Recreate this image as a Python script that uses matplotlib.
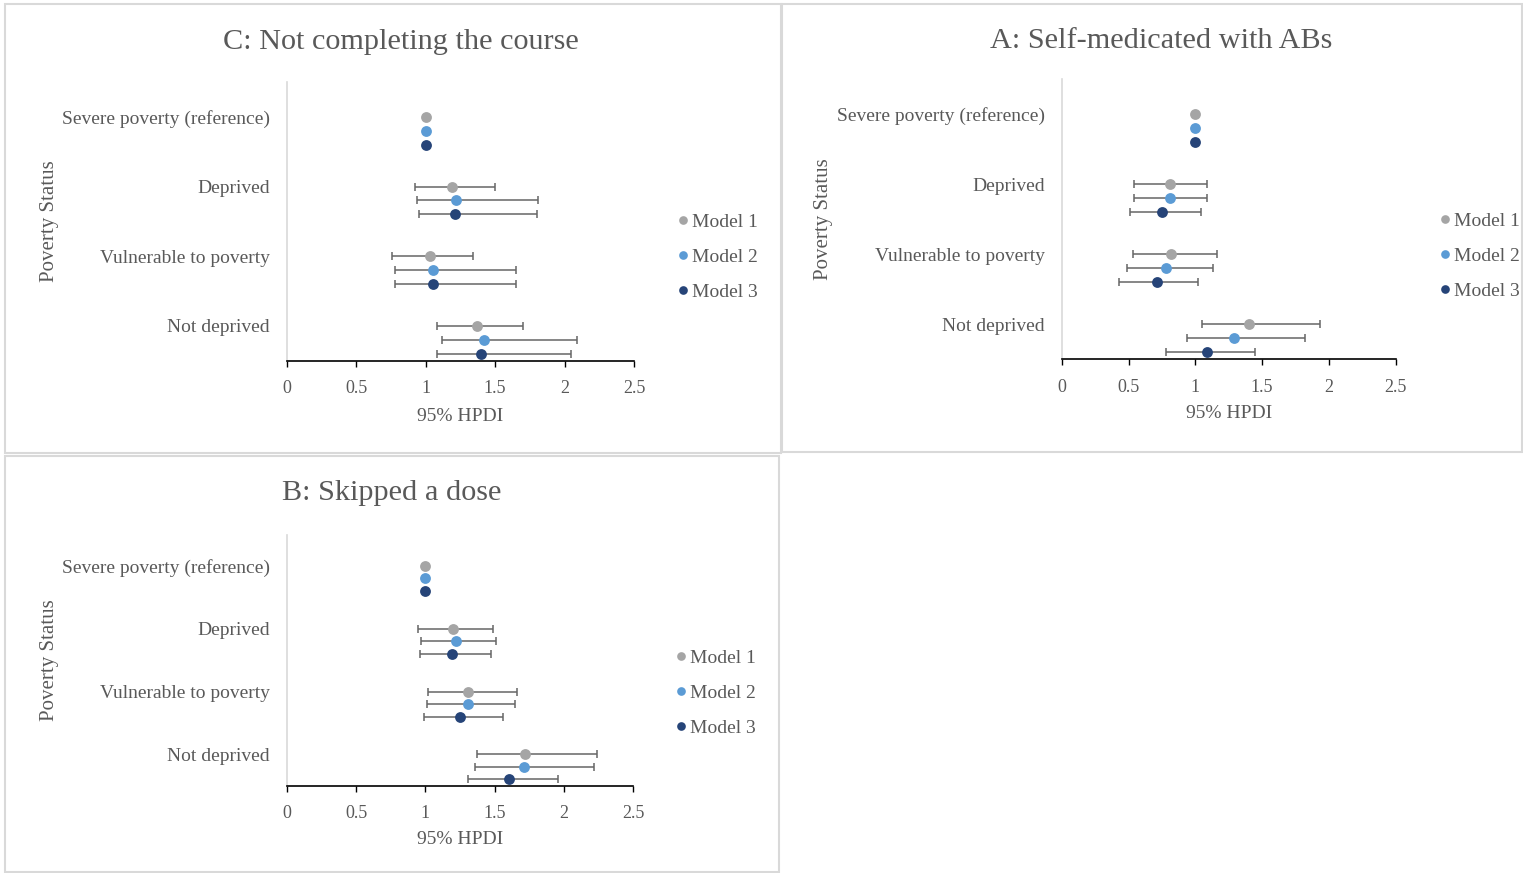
import matplotlib
matplotlib.use("Agg")
import matplotlib.pyplot as plt
from matplotlib.patches import Rectangle
import numpy as np

plt.rcParams['font.family'] = ['Liberation Serif', 'DejaVu Serif']

# Categories listed top to bottom
categories = ["Severe poverty (reference)", "Deprived", "Vulnerable to poverty", "Not deprived"]
models = ["Model 1", "Model 2", "Model 3"]
model_colors = ["#A5A5A5", "#5B9BD5", "#264478"]
x_ticks = [0, 0.5, 1, 1.5, 2, 2.5]
x_tick_labels = ["0", "0.5", "1", "1.5", "2", "2.5"]

# C: Not completing the course  (estimate, lower, upper per model)
c_est = [[1.0, 1.19, 1.03, 1.37], [1.0, 1.22, 1.05, 1.42], [1.0, 1.21, 1.05, 1.40]]
c_low = [[1.0, 0.92, 0.76, 1.08], [1.0, 0.94, 0.78, 1.12], [1.0, 0.95, 0.78, 1.08]]
c_high = [[1.0, 1.50, 1.34, 1.70], [1.0, 1.81, 1.65, 2.09], [1.0, 1.80, 1.65, 2.05]]

# A: Self-medicated with ABs
a_est = [[1.0, 0.81, 0.82, 1.40], [1.0, 0.81, 0.78, 1.29], [1.0, 0.75, 0.71, 1.09]]
a_low = [[1.0, 0.54, 0.53, 1.05], [1.0, 0.54, 0.49, 0.94], [1.0, 0.51, 0.43, 0.78]]
a_high = [[1.0, 1.09, 1.16, 1.93], [1.0, 1.09, 1.13, 1.82], [1.0, 1.04, 1.02, 1.45]]

# B: Skipped a dose
b_est = [[1.0, 1.20, 1.31, 1.72], [1.0, 1.22, 1.31, 1.71], [1.0, 1.19, 1.25, 1.60]]
b_low = [[1.0, 0.95, 1.02, 1.37], [1.0, 0.97, 1.01, 1.36], [1.0, 0.96, 0.99, 1.31]]
b_high = [[1.0, 1.49, 1.66, 2.24], [1.0, 1.51, 1.65, 2.22], [1.0, 1.47, 1.56, 1.96]]

W, H = 1523, 873
fig = plt.figure(figsize=(W / 100, H / 100), dpi=100)
TXT = "#595959"
BORDER = "#D9D9D9"


def px_rect(x0, y0, x1, y1):
    """Convert a pixel box (top-left origin) into figure fractions."""
    return [x0 / W, 1 - y1 / H, (x1 - x0) / W, (y1 - y0) / H]


# panel frames
for (x0, y0, x1, y1) in [(5, 4, 781, 453), (782, 4, 1522, 452), (5, 456, 779, 872)]:
    fig.patches.append(Rectangle((x0 / W, 1 - y1 / H), (x1 - x0) / W, (y1 - y0) / H,
                                 transform=fig.transFigure, fill=False,
                                 edgecolor=BORDER, linewidth=1.5))


def panel(box, est, low, high, title, title_xy, ylab_x, xlab_y, legend_xy):
    ax = fig.add_axes(px_rect(*box))
    n = len(categories)
    base = np.array([n - 0.5 - i for i in range(n)])
    handles = []
    for j, (m, col) in enumerate(zip(models, model_colors)):
        e = np.array(est[j]); lo = np.array(low[j]); hi = np.array(high[j])
        y = base - 0.2 * j
        ax.errorbar(e, y, xerr=[e - lo, hi - e], fmt='none', ecolor="#666666",
                    elinewidth=1.1, capsize=3, capthick=1.1, zorder=2)
        h, = ax.plot(e, y, 'o', color=col, markersize=7.8, markeredgewidth=0,
                     label=m, zorder=3)
        handles.append(h)
    ax.set_xlim(0, 2.5)
    ax.set_ylim(0, n)
    ax.set_xticks(x_ticks)
    ax.set_xticklabels(x_tick_labels, fontsize=13, color=TXT)
    ax.set_yticks(base)
    ax.set_yticklabels(categories, fontsize=14, color=TXT)
    ax.tick_params(axis='x', direction='out', length=4, width=1, color='black', pad=10)
    ax.tick_params(axis='y', length=0, pad=12)
    for s in ['top', 'right']:
        ax.spines[s].set_visible(False)
    ax.spines['left'].set_color(BORDER)
    ax.spines['left'].set_linewidth(1.2)
    ax.spines['bottom'].set_color('black')
    ax.spines['bottom'].set_linewidth(1.2)
    ax.set_xlabel("95% HPDI", fontsize=14, color=TXT)
    ax.set_ylabel("Poverty Status", fontsize=15, color=TXT)
    x0, y0, x1, y1 = box
    # label anchor sits on the text edge, so offset from the visual centre
    ax.yaxis.set_label_coords((ylab_x + 13 - x0) / (x1 - x0), 0.5)
    ax.xaxis.set_label_coords(0.5, (y1 - (xlab_y - 7)) / (y1 - y0))
    fig.text(title_xy[0] / W, 1 - title_xy[1] / H, title, fontsize=21.8,
             color=TXT, ha='center', va='center')
    leg = ax.legend(handles=handles, loc='center left',
                    bbox_to_anchor=(legend_xy[0] / W, 1 - legend_xy[1] / H),
                    bbox_transform=fig.transFigure, frameon=False, fontsize=14,
                    handlelength=0.8, handletextpad=0.1, labelspacing=0.88,
                    borderpad=0, borderaxespad=0, markerscale=0.8)
    for t in leg.get_texts():
        t.set_color(TXT)
    return ax


panel((286.7, 82, 634, 360.7), c_est, c_low, c_high, "C: Not completing the course",
      (401, 42), 46, 415, (675, 257))
panel((1061.7, 79, 1395.7, 359.3), a_est, a_low, a_high, "A: Self-medicated with ABs",
      (1161, 41), 820, 412, (1437, 256))
panel((286.7, 534.5, 633.3, 785.7), b_est, b_low, b_high, "B: Skipped a dose",
      (392, 493), 46, 838, (673, 693))

fig.savefig("out.png", dpi=100)
